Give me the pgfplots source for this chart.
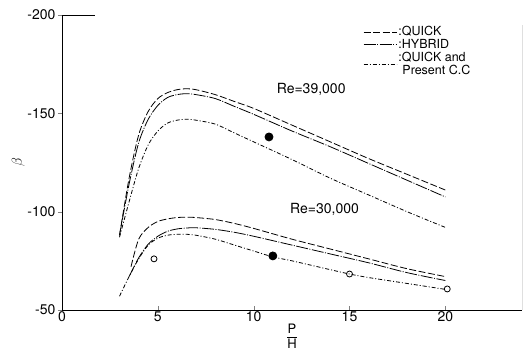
\documentclass[border=0pt]{standalone}
\usepackage{fontspec}
\setmainfont{TeX Gyre Heros}
\usepackage{pgfplots}
\pgfplotsset{compat=1.18}
\begin{document}
\begin{tikzpicture}
\begin{axis}[
  scale only axis, width=460pt, height=295pt,
  xmin=0, xmax=24, ymin=-200, ymax=-50, y dir=reverse,
  axis x line*=bottom, axis y line*=left,
  xtick={0,5,10,15,20}, xticklabels={0,5,10,15,20},
  ytick={-200,-150,-100,-50}, yticklabels={-200,-150,-100,-50},
  xtick align=inside, ytick align=outside,
  major tick length=4pt,
  tick label style={font=\fontsize{14}{16}\selectfont},
  xticklabel style={yshift=2pt},
  yticklabel style={xshift=1pt},
  xlabel={$\displaystyle\frac{\mbox{\fontsize{13}{14}\selectfont P}}{\mbox{\fontsize{13}{14}\selectfont H}}$},
  xlabel style={yshift=5pt},
  ylabel={\fontsize{15}{16}\selectfont$\beta$},
  ylabel style={yshift=-4pt},
  legend style={draw=none, fill=none, at={(axis cs:15.7,-195)}, anchor=north west,
    font=\fontsize{12.5}{13.5}\selectfont, row sep=-1pt, inner sep=0pt,
    nodes={align=left, inner sep=1.5pt}},
  legend cell align=left,
  legend image code/.code={\draw[#1] (0pt,0pt) -- (33pt,0pt);},
  every axis plot/.append style={line width=0.8pt, black},
]
% Re = 39,000
\addplot[smooth, tension=0.5, dash pattern=on 7pt off 2.5pt] coordinates {
(3,-88) (3.5,-117) (4,-139) (4.5,-151) (5,-157.5) (5.5,-160.5) (6,-162) (6.5,-162.5) (7,-162)
(8,-159.5) (9,-156) (10,-152.5) (12,-144) (14,-135.5) (16,-127) (18,-119) (20,-111)};
\addlegendentry{:QUICK}
\addplot[smooth, tension=0.5, dash pattern=on 12pt off 1.5pt on 1pt off 1.5pt] coordinates {
(3,-88) (3.5,-114) (4,-135) (4.5,-147) (5,-154) (5.5,-158) (6,-159.5) (6.5,-160) (7,-159.5)
(8,-157.5) (9,-153.5) (10,-149.5) (12,-141) (14,-133) (16,-124.5) (18,-116) (20,-107.5)};
\addlegendentry{:HYBRID}
\addplot[smooth, tension=0.5, dash pattern=on 4pt off 2pt on 1pt off 2pt] coordinates {
(3,-87) (3.5,-105) (4,-122) (4.5,-134) (5,-141) (5.5,-145) (6,-146.5) (6.5,-147) (7,-146.5)
(8,-144.5) (9,-140) (10,-135.5) (12,-126.5) (14,-117) (16,-108.5) (18,-100) (20,-92)};
\addlegendentry{:QUICK and\\\hspace*{4pt}Present C.C}
% Re = 30,000
\addplot[forget plot, smooth, tension=0.5, dash pattern=on 7pt off 2.5pt] coordinates {
(3.6,-72) (4,-86) (4.5,-92) (5,-95) (5.5,-96.3) (6,-97) (6.5,-97.2) (7,-97)
(8,-96) (9,-94) (10,-91.5) (12,-86) (14,-81) (16,-76) (18,-71) (20,-67)};
\addplot[forget plot, smooth, tension=0.5, dash pattern=on 12pt off 1.5pt on 1pt off 1.5pt] coordinates {
(3.5,-67) (4,-76.5) (4.5,-83.5) (5,-87.5) (5.5,-90) (6,-91.2) (6.5,-91.7) (7,-91.8)
(8,-91) (9,-89.5) (10,-87.5) (12,-83) (14,-78.5) (16,-74) (18,-69) (20,-65)};
\addplot[forget plot, smooth, tension=0.5, dash pattern=on 4pt off 2pt on 1pt off 2pt] coordinates {
(3,-57) (3.5,-67) (4,-76) (4.5,-83) (5,-86.5) (5.5,-88) (6,-88.5) (6.5,-88.5) (7,-88)
(8,-86) (9,-83) (10,-80) (11,-77) (12,-75) (14,-70.5) (15,-68.3) (16,-66.5) (18,-63.5) (20,-60.5)};
% experimental points
\addplot[forget plot, only marks, mark=*, mark size=4pt, black] coordinates {(10.8,-138) (11,-77.5)};
\addplot[forget plot, only marks, mark=o, mark size=3pt, black, line width=0.8pt] coordinates {(4.8,-76) (15,-68.3) (20.1,-60.7)};
% partial frame
\draw[line width=0.6pt] (axis cs:24,-195) -- (axis cs:24,-50);
\draw[line width=0.6pt] (axis cs:0,-200) -- (axis cs:1.7,-200);
\node[font=\fontsize{14}{16}\selectfont] at (axis cs:13.0,-162) {Re=39,000};
\node[font=\fontsize{14}{16}\selectfont] at (axis cs:13.7,-101) {Re=30,000};
\end{axis}
\pgfresetboundingbox
\path (current axis.south west) ++(-62pt,-43pt) coordinate (bl);
\path (current axis.north east) ++(5pt,15pt) coordinate (tr);
\path[use as bounding box] (bl) rectangle (tr);
\end{tikzpicture}
\end{document}
